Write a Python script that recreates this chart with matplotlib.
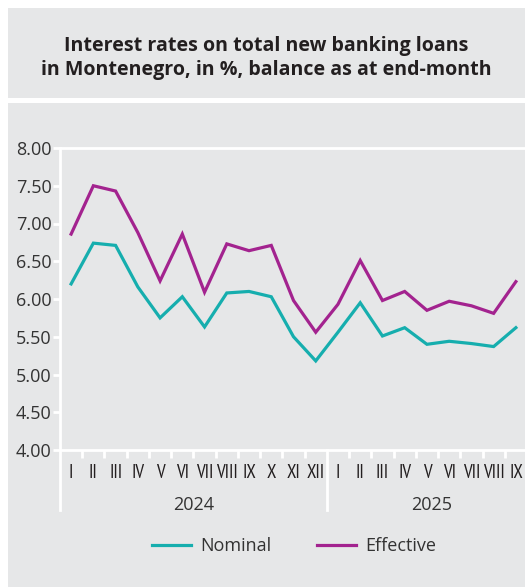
import matplotlib
matplotlib.use("Agg")
import matplotlib.pyplot as plt
from matplotlib import font_manager
from matplotlib.patches import Rectangle
from matplotlib.lines import Line2D
import matplotlib.transforms as mtransforms

plt.rcParams['font.family'] = ['Open Sans', 'DejaVu Sans']

title = "Interest rates on total new banking loans\nin Montenegro, in %, balance as at end-month"
months = ["I", "II", "III", "IV", "V", "VI", "VII", "VIII", "IX", "X", "XI", "XII",
          "I", "II", "III", "IV", "V", "VI", "VII", "VIII", "IX"]
years = ["2024", "2025"]
nominal = [6.20, 6.74, 6.71, 6.16, 5.75, 6.03, 5.63, 6.08, 6.10, 6.03, 5.50, 5.18,
           5.56, 5.95, 5.51, 5.62, 5.40, 5.44, 5.41, 5.37, 5.62]
effective = [6.86, 7.50, 7.43, 6.88, 6.24, 6.86, 6.09, 6.73, 6.64, 6.71, 5.98, 5.56,
             5.93, 6.51, 5.98, 6.10, 5.85, 5.97, 5.91, 5.81, 6.23]
y_ticks = [4.0, 4.5, 5.0, 5.5, 6.0, 6.5, 7.0, 7.5, 8.0]

TEAL = "#16AEAE"
PURPLE = "#A3238F"
PANEL = "#E6E7E8"
TEXT = "#231F20"

# narrow face for the month numerals, if available
installed = {f.name for f in font_manager.fontManager.ttflist}
if "PT Sans Narrow" in installed:
    month_family, month_size = ["PT Sans Narrow", "Open Sans"], 13.5
else:
    month_family, month_size = ["Open Sans", "DejaVu Sans"], 11

W, H = 525, 587
fig = plt.figure(figsize=(W / 100, H / 100), dpi=100)
fig.patch.set_facecolor("white")

# background panels: title block and chart block
fig.patches.append(Rectangle((8 / W, 1 - 98 / H), 1, 90 / H, transform=fig.transFigure,
                             facecolor=PANEL, edgecolor="none", zorder=-5))
fig.patches.append(Rectangle((8 / W, 0), 1, 1 - 103 / H, transform=fig.transFigure,
                             facecolor=PANEL, edgecolor="none", zorder=-5))

fig.text(0.5 + 4 / W, 1 - 58 / H, title, ha="center", va="center", fontsize=14.1,
         fontweight="bold", color=TEXT, linespacing=1.32)

left, right = 60 / W, 527 / W
bottom, top = 1 - 450 / H, 1 - 148 / H
ax = fig.add_axes([left, bottom, right - left, top - bottom])
ax.set_facecolor("none")

x = list(range(len(months)))
ax.plot(x, nominal, color=TEAL, lw=2.3, solid_joinstyle="miter", label="Nominal", zorder=3)
ax.plot(x, effective, color=PURPLE, lw=2.3, solid_joinstyle="miter", label="Effective", zorder=3)

ax.set_xlim(-0.5, len(months) - 0.5)
ax.set_ylim(4, 8)
ax.set_yticks(y_ticks)
ax.set_yticklabels([f"{v:.2f}" for v in y_ticks])

ax.spines["right"].set_visible(False)
for side in ["left", "bottom", "top"]:
    ax.spines[side].set_color("white")
    ax.spines[side].set_linewidth(2)

ax.tick_params(axis="y", length=5, width=2, color="white", labelsize=13,
               labelcolor="#333333", pad=1)
ax.set_xticks(x)
ax.set_xticklabels(months, family=month_family, fontsize=month_size, color=TEXT)
ax.tick_params(axis="x", which="major", length=0, pad=10)
bounds = [i + 0.5 for i in range(len(months) - 1) if i != 11]
ax.set_xticks(bounds, minor=True)
ax.tick_params(axis="x", which="minor", length=6, width=2, color="white")

# extended axis line and year separator
trans = mtransforms.blended_transform_factory(ax.transData, ax.transAxes)
ax.add_line(Line2D([-0.5, -0.5], [0, -0.2], transform=trans, color="white", lw=2,
                   clip_on=False))
ax.add_line(Line2D([11.5, 11.5], [0, -0.2], transform=trans, color="white", lw=2,
                   clip_on=False))
ax.text(5.5, -55 / 302, years[0], transform=trans, ha="center", va="center",
        fontsize=13, color="#333333")
ax.text(16.2, -55 / 302, years[1], transform=trans, ha="center", va="center",
        fontsize=13, color="#333333")

fig.legend(loc="center", bbox_to_anchor=(294 / W, 1 - 546 / H), ncol=2, frameon=False,
           fontsize=13, handlelength=2.2, handletextpad=0.5, columnspacing=2.5,
           labelcolor="#333333")

fig.savefig("out.png", dpi=100)
